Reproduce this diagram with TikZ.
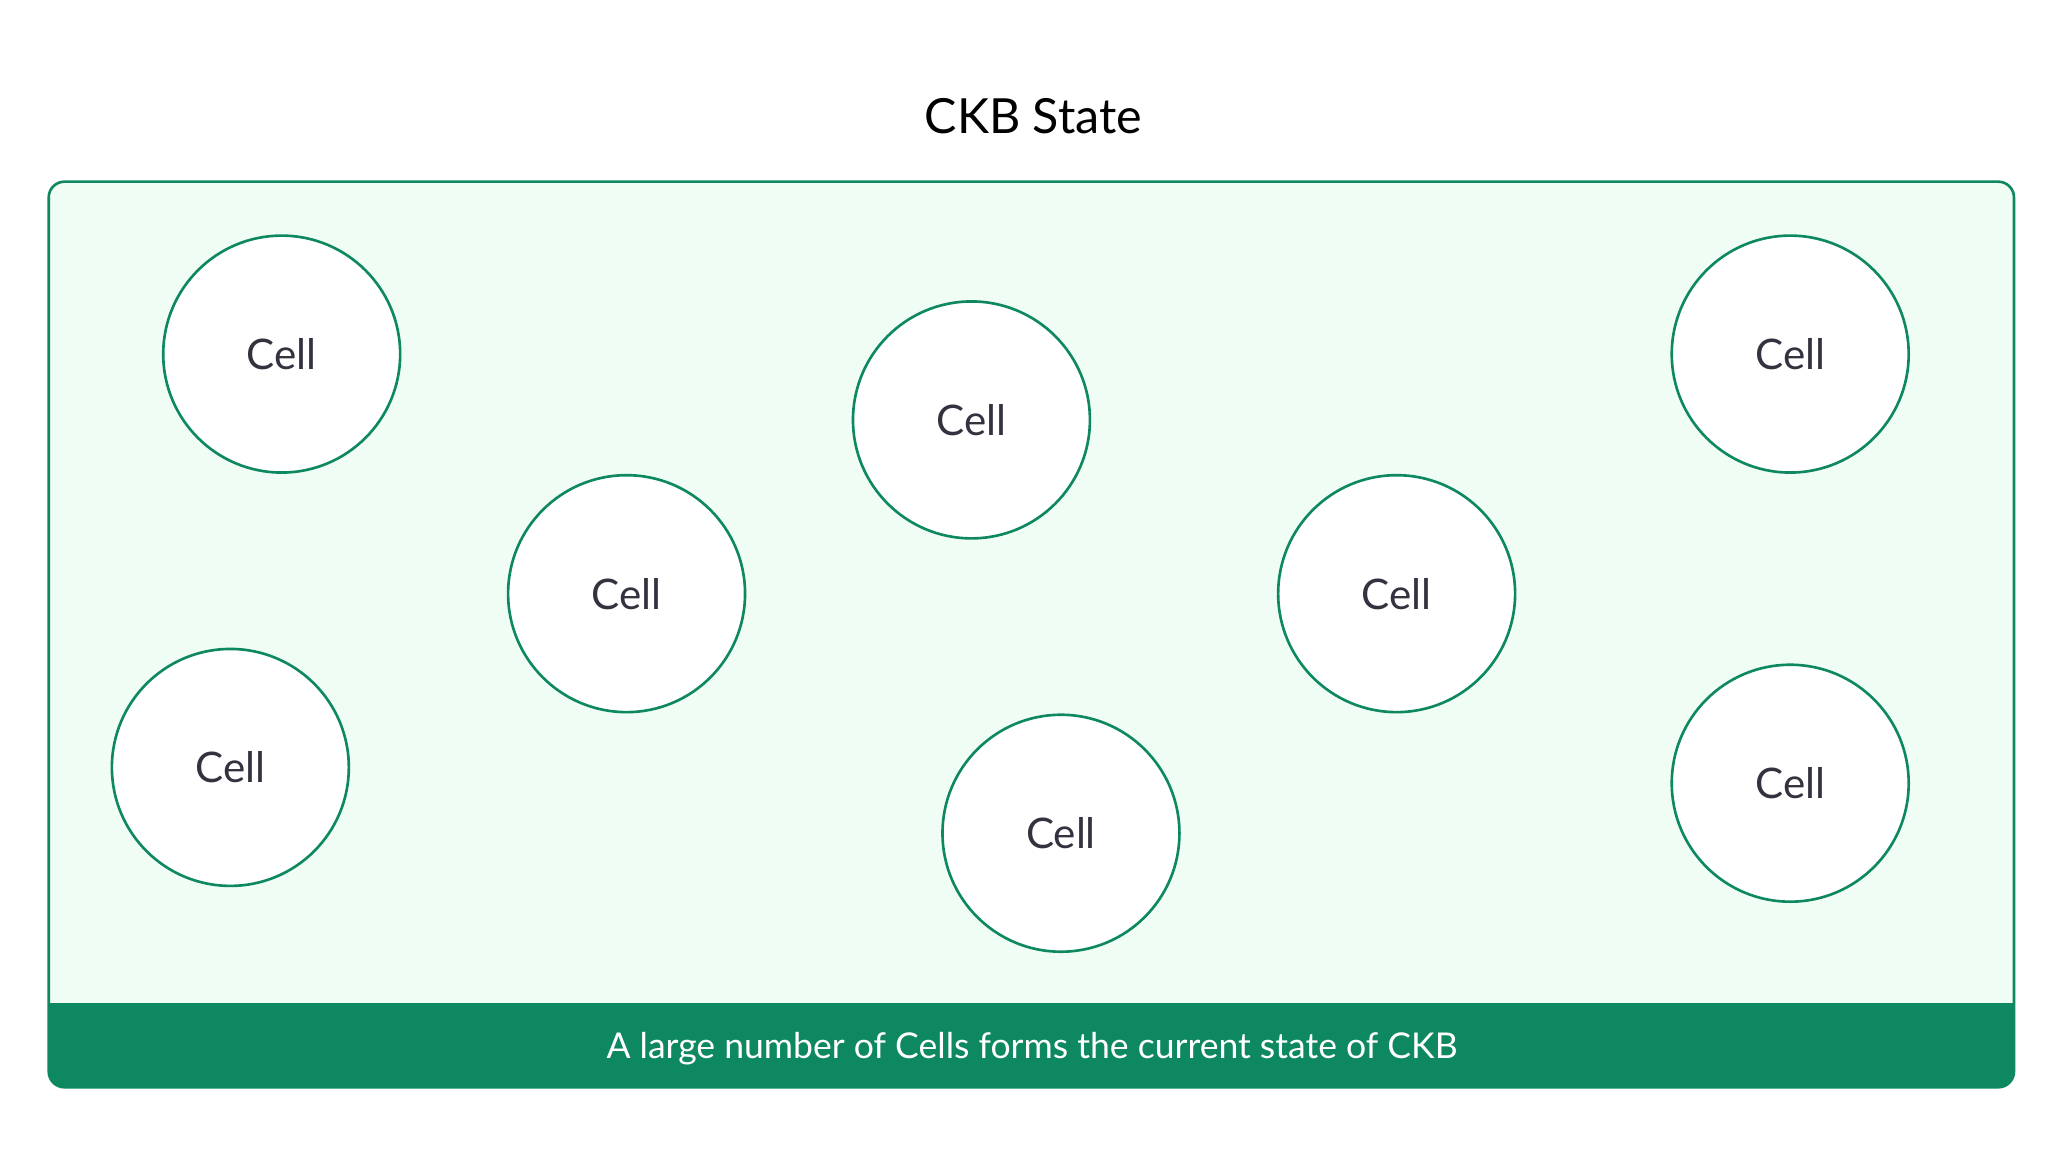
\documentclass[tikz,border=0pt]{standalone}
\usepackage{fontspec}
\setmainfont{Lato}
\definecolor{cgreen}{HTML}{0E8860}
\definecolor{cfill}{HTML}{F0FDF4}
\definecolor{ctext}{HTML}{33333F}
\tikzset{
  cell/.style={circle, draw=cgreen, line width=1pt, fill=white, minimum size=90pt, inner sep=0pt, text=ctext, font=\fontsize{16}{19}\selectfont},
}
\begin{document}
\begin{tikzpicture}[x=0.5pt,y=-0.5pt]
\useasboundingbox (0,0) rectangle (1568,882);
\node[font=\fontsize{18.4}{22}\selectfont, text=black] (title) at (785,88) {CKB State};
\draw[draw=cgreen, fill=cfill, line width=1pt, rounded corners=6pt] (37,138) rectangle (1530,826);
\begin{scope}
\clip (30,762) rectangle (1540,840);
\fill[cgreen, rounded corners=6.5pt] (36.5,700) rectangle (1530.5,826.5);
\end{scope}
\node[font=\fontsize{13.5}{16}\selectfont, text=white] (caption) at (784,797) {A large number of Cells forms the current state of CKB};
\node[cell] (c1) at (214,269) {Cell};
\node[cell] (c2) at (476,451) {Cell};
\node[cell] (c3) at (738,319) {Cell};
\node[cell] (c4) at (1061,451) {Cell};
\node[cell] (c5) at (1360,269) {Cell};
\node[cell] (c6) at (175,583) {Cell};
\node[cell] (c7) at (806,633) {Cell};
\node[cell] (c8) at (1360,595) {Cell};
\end{tikzpicture}
\end{document}
